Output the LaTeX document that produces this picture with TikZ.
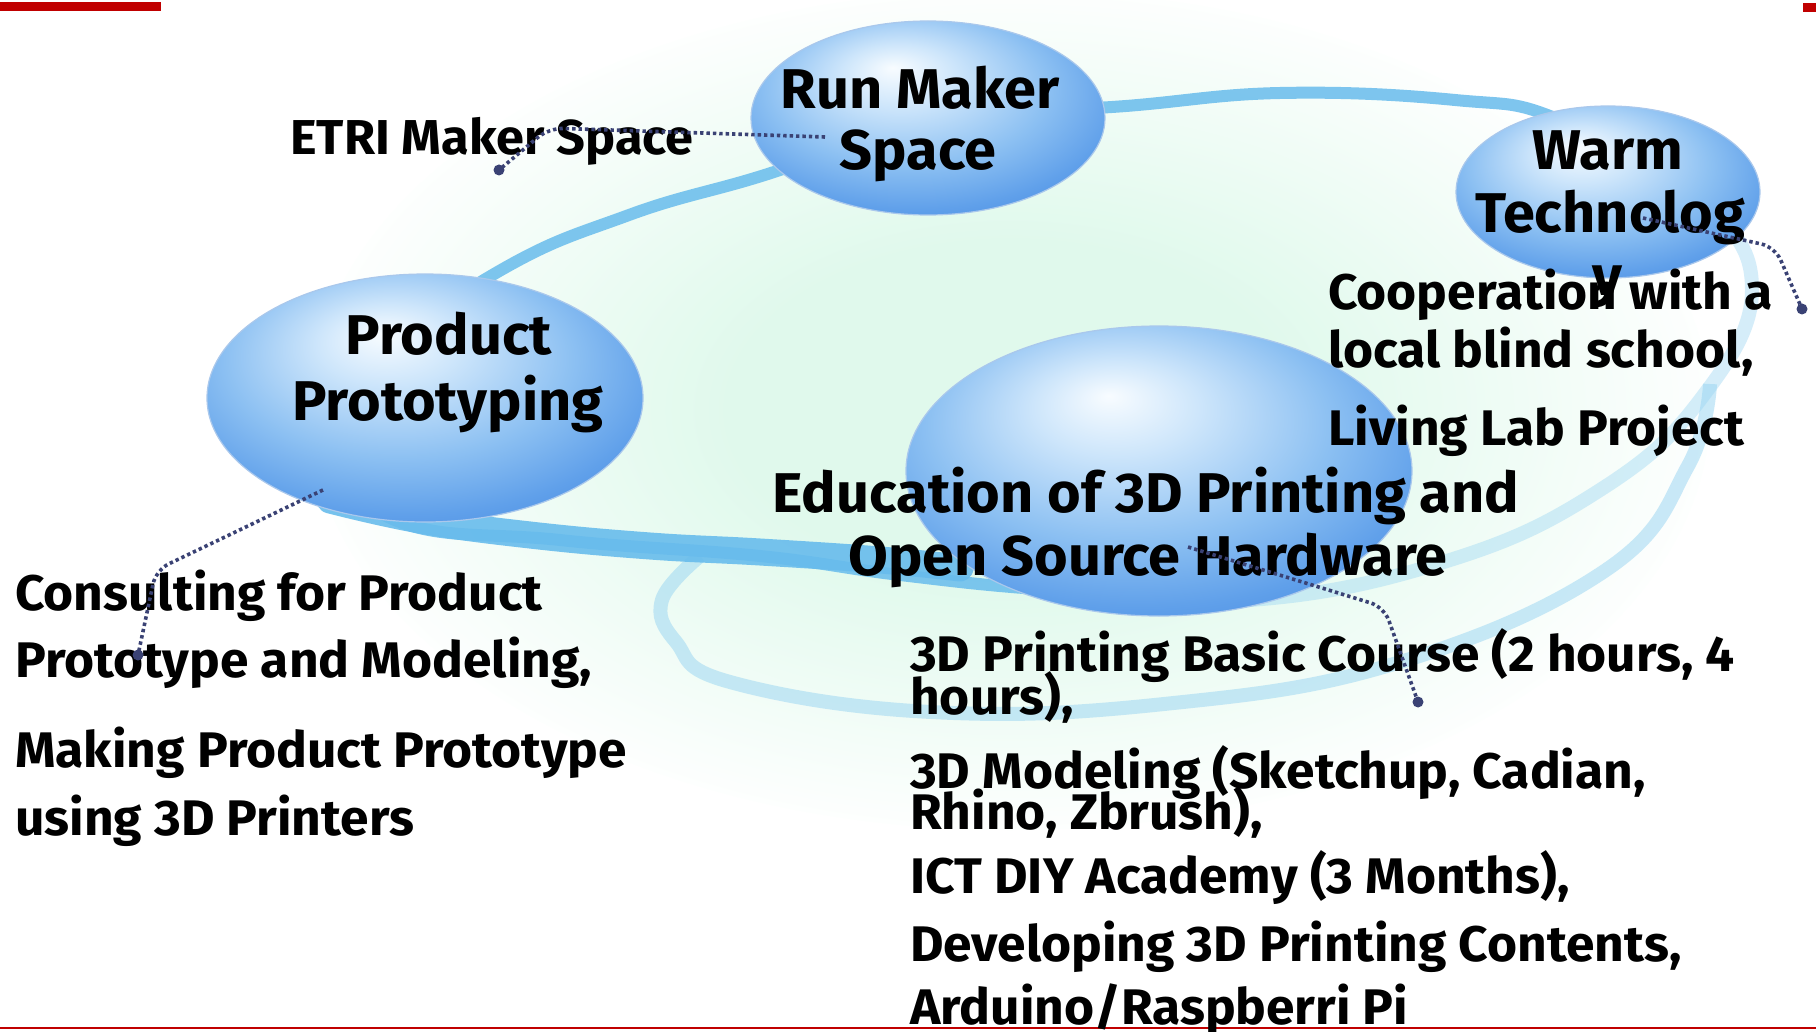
\documentclass[tikz,border=0pt]{standalone}
\usepackage{fontspec}
\setmainfont{Fira Sans}[FakeStretch=1.03]
\usetikzlibrary{shapes.geometric}
\definecolor{redc}{RGB}{192,0,0}
\definecolor{gemW}{RGB}{248,252,255}
\definecolor{gemL}{RGB}{206,230,251}
\definecolor{gemM}{RGB}{140,192,242}
\definecolor{gemD}{RGB}{96,160,234}
\definecolor{gemE}{RGB}{76,142,226}
\definecolor{gemB}{RGB}{170,200,236}
\definecolor{ringc}{RGB}{104,188,236}
\definecolor{ringl}{RGB}{150,212,242}
\definecolor{glowc}{RGB}{224,249,236}
\definecolor{connc}{RGB}{58,66,116}
\pgfdeclareradialshading{gem}{\pgfpoint{-5bp}{13bp}}{color(0bp)=(gemW); color(8bp)=(gemL); color(20bp)=(gemM); color(29bp)=(gemD); color(35bp)=(gemE); color(50bp)=(gemE)}
\pgfdeclareradialshading{glow}{\pgfpointorigin}{color(0bp)=(glowc); color(10bp)=(glowc); color(26bp)=(white); color(50bp)=(white)}
\tikzset{
  gemball/.style={ellipse, shading=gem, draw=gemB, line width=1.2pt, inner sep=0pt},
  ring/.style={draw=ringc, line width=12pt, opacity=0.85},
  ringback/.style={draw=ringl, line width=14pt, opacity=0.4},
  ringfaint/.style={draw=ringl, line width=14pt, opacity=0.5},
  band/.style={draw=ringc, line width=27pt, opacity=0.9, line cap=round},
  conn/.style={draw=connc, line width=3.6pt, dash pattern=on 3.4pt off 3pt, rounded corners=14pt},
  enddot/.style={circle, fill=connc, inner sep=0pt, minimum size=11pt},
  body/.style={inner sep=0pt, anchor=base west, font=\bfseries\fontsize{50}{50}\selectfont},
  title/.style={inner sep=0pt, anchor=base, font=\bfseries\fontsize{56}{56}\selectfont},
  small/.style={inner sep=0pt, anchor=base west, font=\bfseries\fontsize{49}{49}\selectfont}
}
\begin{document}
\begin{tikzpicture}[x=1pt,y=-1pt]
\useasboundingbox (0,0) rectangle (1816,1032);
\fill[white] (0,0) rectangle (1816,1032);
% background glow
\shade[shading=glow] (1010,410) ellipse [x radius=700pt, y radius=420pt];
% rings
\draw[ringfaint] plot[smooth, tension=0.7] coordinates {(700,556) (662,600) (676,642) (730,682) (931,712) (1164,704) (1397,663) (1606,570) (1688,466) (1710,384)};
\draw[ring] plot[smooth, tension=0.7] coordinates {(303,407) (489,277) (629,215) (774,172) (931,116) (1112,107) (1280,93) (1455,100) (1560,120) (1700,200)};
\draw[ringback] plot[smooth, tension=0.7] coordinates {(1560,120) (1700,200) (1752,290) (1700,400) (1600,490) (1450,560) (1250,600) (1050,590)};
\draw[ring] plot[smooth, tension=0.7] coordinates {(1250,600) (1050,590) (900,575) (760,556) (560,540) (384,515) (303,407)};
\draw[band] plot[smooth, tension=0.7] coordinates {(330,500) (420,520) (530,535) (650,546) (760,552) (880,560) (960,568)};
% balls
\node[gemball, minimum width=354pt, minimum height=194pt] (rms) at (928,118) {};
\node[gemball, minimum width=304pt, minimum height=172pt] (warm) at (1608,192) {};
\node[gemball, minimum width=436pt, minimum height=248pt] (pp) at (425,398) {};
\node[gemball, minimum width=506pt, minimum height=290pt] (edu) at (1159,471) {};
% red marks
\fill[redc] (0,2) rectangle (161,11);
\fill[redc] (1803,3) rectangle (1816,12);
\draw[redc, line width=2pt] (0,1028) -- (1816,1028);
% texts
\node[small] (etri) at (290,155) {ETRI Maker Space};
\node[title] (rmsA) at (920,109) {Run Maker};
\node[title] (rmsB) at (918,170) {Space};
\node[title] (warmA) at (1608,170) {Warm};
\node[title] (warmB) at (1610,233) {Technolog};
\node[title] (warmC) at (1607,296) {y};
\node[title] (ppA) at (449,355) {Product};
\node[title] (ppB) at (448,420) {Prototyping};
\node[title] (eduA) at (1146,512) {Education of 3D Printing and};
\node[title] (eduB) at (1148,575) {Open Source Hardware};
\node[body] (coA) at (1328,310) {Cooperation with a};
\node[body] (coB) at (1328,367) {local blind school,};
\node[body] (coC) at (1328,445) {Living Lab Project};
\node[body] (csA) at (15,610) {Consulting for Product};
\node[body] (csB) at (15,677) {Prototype and Modeling,};
\node[body] (mkA) at (15,767) {Making Product Prototype};
\node[body] (mkB) at (15,835) {using 3D Printers};
\node[body] (lA) at (910,671) {3D Printing Basic Course (2 hours, 4};
\node[body] (lB) at (910,714) {hours),};
\node[body] (lC) at (910,788) {3D Modeling (Sketchup, Cadian,};
\node[body] (lD) at (910,829) {Rhino, Zbrush),};
\node[body] (lE) at (910,893) {ICT DIY Academy (3 Months),};
\node[body] (lF) at (910,961) {Developing 3D Printing Contents,};
\node[body] (lG) at (910,1024) {Arduino/Raspberri Pi};
% connectors
\coordinate (c1s) at (825,137);
\coordinate (c1m) at (549,128);
\node[enddot] (d1) at (499,170) {};
\draw[conn] (c1s) -- (c1m) -- (d1.center);
\coordinate (c2s) at (323,490);
\coordinate (c2m) at (156,570);
\node[enddot] (d2) at (138,655) {};
\draw[conn] (c2s) -- (c2m) -- (d2.center);
\coordinate (c3s) at (1643,218);
\coordinate (c3m) at (1775,247);
\node[enddot] (d3) at (1802,309) {};
\draw[conn] (c3s) -- (c3m) -- (d3.center);
\coordinate (c4s) at (1188,547);
\coordinate (c4m) at (1384,607);
\node[enddot] (d4) at (1418,702) {};
\draw[conn] (c4s) -- (c4m) -- (d4.center);
\end{tikzpicture}
\end{document}
